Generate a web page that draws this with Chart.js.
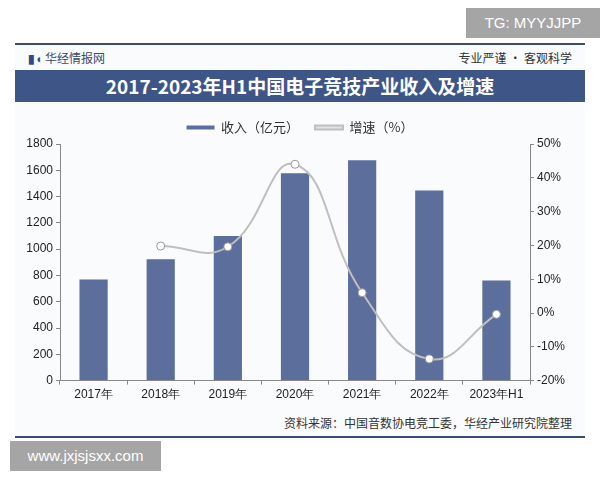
<!DOCTYPE html>
<html><head><meta charset="utf-8">
<script src="https://cdn.jsdelivr.net/npm/chart.js@4"></script>
<style>
body{margin:0;width:600px;height:480px;background:#fff;font-family:"Noto Sans CJK SC",sans-serif;position:relative;overflow:hidden}
.abs{position:absolute}
</style></head><body>
<div class="abs" style="left:466px;top:8px;width:134px;height:30px;background:#a5a5a5;color:#fff;font:15px 'Liberation Sans';line-height:30px;text-align:center">TG: MYYJJPP</div>
<div class="abs" style="left:15px;top:43px;width:570px;height:395px;background:#fafbfc"></div>
<div class="abs" style="left:15px;top:43px;width:570px;height:2px;background:#3c4e6e"></div>
<div class="abs" style="left:15px;top:436px;width:570px;height:2px;background:#3c4e6e"></div>
<div class="abs" style="left:28px;top:49px;font-size:12px;color:#3a4a6a"><b style="color:#2f4b85">▮◖</b> 华经情报网</div>
<div class="abs" style="right:28px;top:49px;font-size:12px;color:#333">专业严谨 • 客观科学</div>
<div class="abs" style="left:15px;top:70px;width:570px;height:32px;background:#3e5588;color:#fff;font:bold 19px 'Noto Sans CJK SC';line-height:32px;text-align:center">2017-2023年H1中国电子竞技产业收入及增速</div>
<div class="abs" style="left:15px;top:105px;width:570px;height:300px"><canvas id="c" width="570" height="300"></canvas></div>
<div class="abs" style="right:28px;top:414px;font-size:12px;color:#333">资料来源：中国音数协电竞工委，华经产业研究院整理</div>
<div class="abs" style="left:10px;top:441px;width:151px;height:30px;background:#a5a5a5;color:#fff;font:15px 'Liberation Sans';line-height:30px;text-align:center">www.jxjsjsxx.com</div>
<script>
const categories=["2017年","2018年","2019年","2020年","2021年","2022年","2023年H1"];
const revenue=[769,923,1100,1577,1677,1446,762];
const growth=[null,19.8,19.6,44.0,6.0,-13.6,-0.4];
const tickGrid={display:true,drawOnChartArea:false,drawTicks:true,tickLength:4,color:'#888'};
new Chart(document.getElementById('c'),{
 data:{labels:categories,datasets:[
  {type:'line',label:'增速（%）',data:growth,yAxisID:'y1',borderColor:'#bfbfbf',borderWidth:2,tension:0.45,pointRadius:4,pointBackgroundColor:'#fff',pointBorderColor:'#999',pointBorderWidth:1,order:0},
  {type:'bar',label:'收入（亿元）',data:revenue,yAxisID:'y',backgroundColor:'#5b6e9c',barPercentage:0.42,categoryPercentage:1,order:1}
 ]},
 options:{responsive:false,animation:false,
  plugins:{legend:{position:'top',reverse:true,labels:{font:{size:13,family:'Noto Sans CJK SC'},color:'#333',boxWidth:28,boxHeight:4,padding:16}},tooltip:{enabled:false}},
  scales:{
   x:{grid:tickGrid,border:{color:'#888'},ticks:{color:'#222',font:{size:12}}},
   y:{min:0,max:1800,afterFit(s){s.width=45},ticks:{stepSize:200,color:'#222',font:{size:12},callback:v=>String(v)},grid:tickGrid,border:{color:'#888'}},
   y1:{position:'right',min:-20,max:50,afterFit(s){s.width=55},ticks:{stepSize:10,color:'#222',font:{size:12},callback:v=>v+'%'},grid:tickGrid,border:{color:'#888'}}
  }}
});
</script></body></html>
